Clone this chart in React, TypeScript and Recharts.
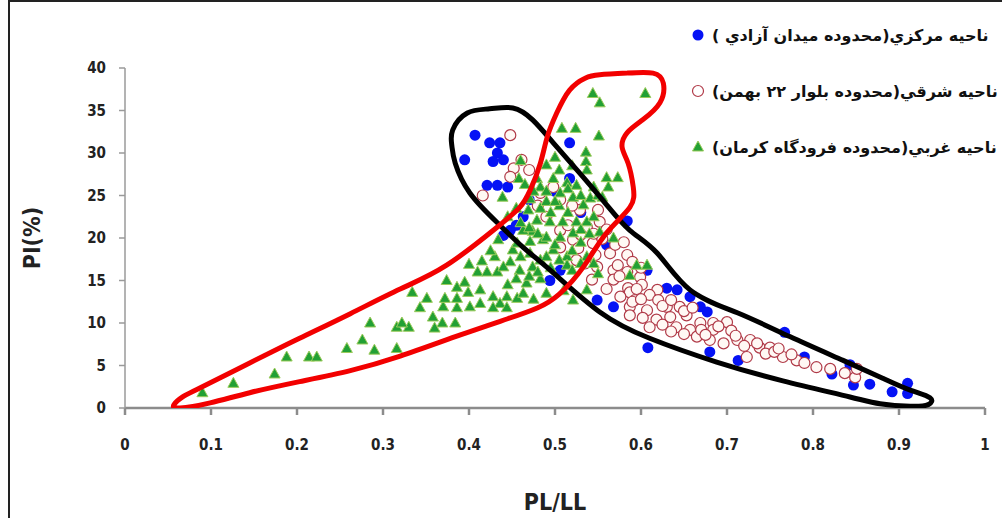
import React from "react";
import { Legend, Scatter, ScatterChart, XAxis, YAxis } from "recharts";

const xTicks = [0, 0.1, 0.2, 0.3, 0.4, 0.5, 0.6, 0.7, 0.8, 0.9, 1];
const yTicks = [0, 5, 10, 15, 20, 25, 30, 35, 40];

const seriesNames = [
  "ناحيه مرکزي(محدوده ميدان آزادي )",
  "ناحيه شرقي(محدوده بلوار ۲۲ بهمن)",
  "ناحيه غربي(محدوده فرودگاه کرمان)",
];

// central zone - filled blue circles
const centralPoints: [number, number][] = [
  [0.407, 32.1], [0.424, 31.2], [0.436, 31.2], [0.433, 30], [0.395, 29.2],
  [0.428, 29], [0.44, 29.2], [0.421, 26.2], [0.433, 26.2], [0.445, 26],
  [0.517, 31.2], [0.517, 27], [0.463, 22.5], [0.448, 20.9], [0.455, 21.5],
  [0.44, 20.3], [0.494, 15], [0.506, 16.2], [0.584, 22], [0.56, 19.2],
  [0.549, 12.7], [0.568, 11.9], [0.607, 16.2], [0.63, 14.1], [0.642, 13.9],
  [0.657, 13.1], [0.669, 11.9], [0.677, 11.3], [0.608, 7.1], [0.68, 6.6],
  [0.713, 5.6], [0.767, 8.9], [0.79, 6], [0.822, 4], [0.843, 5.1],
  [0.847, 2.7], [0.866, 2.8], [0.892, 1.9], [0.91, 1.7], [0.91, 2.9],
  [0.5, 25.5], [0.53, 23], [0.47, 24.5],
];

// eastern zone - open red circles
const easternPoints: [number, number][] = [
  [0.448, 32.1], [0.461, 29.2], [0.452, 28.2], [0.448, 27.2], [0.416, 25],
  [0.483, 25.3], [0.498, 26], [0.506, 24.5], [0.49, 22.5], [0.529, 23.3],
  [0.55, 23.3], [0.552, 21.9], [0.537, 21.3], [0.506, 20.9], [0.521, 19.8],
  [0.544, 19.4], [0.527, 18.8], [0.506, 18.9], [0.525, 17.4], [0.547, 18],
  [0.564, 18.2], [0.584, 18], [0.549, 16.6], [0.568, 16.2], [0.573, 16.8],
  [0.584, 16], [0.599, 15.4], [0.543, 15.1], [0.568, 15.1], [0.585, 14.1],
  [0.601, 14.5], [0.619, 13.9], [0.587, 13.6], [0.576, 13.1], [0.593, 12.7],
  [0.61, 13.3], [0.62, 12.7], [0.587, 11.9], [0.607, 11.5], [0.63, 11.9],
  [0.645, 11.9], [0.587, 10.9], [0.602, 10.6], [0.618, 10.4], [0.634, 10.7],
  [0.653, 10.9], [0.61, 9.5], [0.641, 9.5], [0.657, 9.2], [0.669, 10],
  [0.684, 10], [0.7, 10.1], [0.684, 9.2], [0.665, 8.4], [0.68, 8],
  [0.696, 7.6], [0.712, 8], [0.727, 8], [0.738, 7.1], [0.75, 7.1],
  [0.723, 6], [0.765, 6], [0.781, 5.6], [0.804, 4.8], [0.837, 4.1],
  [0.849, 3.6], [0.851, 4.6], [0.555, 19.9], [0.56, 21], [0.57, 19.2],
  [0.58, 19.5], [0.59, 17.2], [0.6, 16.5], [0.595, 14], [0.56, 14],
  [0.575, 15.5], [0.59, 12.5], [0.6, 12.8], [0.625, 12], [0.635, 12.7],
  [0.65, 11.4], [0.66, 11.8], [0.625, 9.8], [0.635, 9], [0.65, 8.7],
  [0.67, 9.2], [0.675, 8.6], [0.69, 9.6], [0.705, 9.1], [0.71, 8.5],
  [0.72, 7.3], [0.735, 7.6], [0.745, 6.4], [0.755, 6.6], [0.76, 7],
  [0.775, 6.3], [0.79, 5.3], [0.82, 4.6], [0.545, 20.5], [0.535, 17],
  [0.515, 21.5], [0.52, 23.8], [0.48, 23.8], [0.47, 28], [0.53, 20.4],
];

// western zone - green triangles
const westernPoints: [number, number][] = [
  [0.09, 1.8], [0.126, 2.9], [0.174, 4], [0.188, 6], [0.214, 6],
  [0.223, 6], [0.258, 7], [0.276, 8], [0.285, 10], [0.29, 6.8],
  [0.316, 9.5], [0.316, 7], [0.33, 9.5], [0.322, 10], [0.343, 11.8],
  [0.334, 13.6], [0.351, 12.9], [0.358, 10.7], [0.369, 10], [0.384, 10],
  [0.37, 11.9], [0.386, 11.8], [0.401, 11.9], [0.372, 12.9], [0.386, 12.9],
  [0.374, 15], [0.386, 14.2], [0.395, 14.8], [0.399, 13.6], [0.413, 13.9],
  [0.413, 12.3], [0.41, 16], [0.421, 16], [0.433, 16], [0.428, 13.1],
  [0.436, 12.3], [0.428, 11.8], [0.444, 13.1], [0.444, 11.8], [0.456, 12.9],
  [0.463, 13.5], [0.467, 14.7], [0.483, 15.2], [0.43, 17.8], [0.448, 17.2],
  [0.459, 16.2], [0.474, 16.6], [0.451, 18.6], [0.471, 18.2], [0.483, 17.4],
  [0.434, 19.8], [0.456, 19.4], [0.471, 19.6], [0.486, 19.8], [0.474, 20.8],
  [0.463, 20.9], [0.49, 20.1], [0.498, 18.6], [0.506, 20.1], [0.514, 17.8],
  [0.521, 20.6], [0.479, 22.1], [0.494, 21.9], [0.509, 21.9], [0.525, 21.9],
  [0.537, 21.9], [0.469, 23.3], [0.483, 23.5], [0.49, 24.3], [0.506, 25.3],
  [0.521, 24.8], [0.533, 23.9], [0.541, 24.7], [0.439, 24.8], [0.471, 24.6],
  [0.479, 27], [0.498, 27], [0.514, 26.5], [0.483, 26], [0.458, 27],
  [0.46, 29.1], [0.536, 30.1], [0.536, 29], [0.537, 28], [0.56, 27.1],
  [0.573, 27.1], [0.562, 26], [0.508, 32.9], [0.524, 32.9], [0.551, 32],
  [0.544, 37], [0.552, 35.9], [0.605, 37], [0.568, 20], [0.552, 20.7],
  [0.537, 17.8], [0.537, 13.9], [0.514, 16.8], [0.521, 12.7], [0.595, 16.8],
  [0.607, 16.8], [0.587, 15.6], [0.445, 22.5], [0.455, 23.5], [0.46, 21.8],
  [0.47, 21.2], [0.48, 20.5], [0.495, 23], [0.505, 23.8], [0.515, 23],
  [0.53, 21], [0.54, 20.5], [0.545, 22.5], [0.5, 19.2], [0.52, 18.5],
  [0.53, 19.5], [0.49, 17.8], [0.505, 17.4], [0.52, 16.2], [0.53, 17],
  [0.545, 17], [0.55, 15.8], [0.495, 16.5], [0.48, 16], [0.47, 15.5],
  [0.455, 15.2], [0.445, 14.5], [0.46, 17.8], [0.44, 16.6], [0.425, 18.5],
  [0.415, 17.3], [0.4, 16.9], [0.49, 25.5], [0.5, 24.3], [0.515, 25.8],
  [0.525, 26.2], [0.53, 25], [0.545, 26], [0.55, 25], [0.475, 25.5],
  [0.465, 26.3], [0.505, 28], [0.52, 28.5], [0.5, 29.5], [0.49, 28.6],
  [0.555, 24.8], [0.51, 13.8], [0.49, 13.5], [0.475, 12.8], [0.36, 9.4],
];

// hand drawn envelope around the central + eastern points
const blackOutline: [number, number][] = [
  [0.433, 21.8], [0.401, 25.3], [0.384, 28.8], [0.38, 30.9], [0.381, 32.7],
  [0.398, 34.7], [0.424, 35.2], [0.451, 35.3], [0.474, 33.9], [0.498, 31.2],
  [0.529, 27.6], [0.56, 23.9], [0.587, 20.9], [0.619, 18.2], [0.657, 13.9],
  [0.712, 11.2], [0.773, 8.4], [0.835, 5.6], [0.881, 3.5], [0.913, 2.1],
  [0.936, 1.2], [0.934, 0.4], [0.913, 0.2], [0.878, 0.5], [0.843, 1.3],
  [0.765, 3.2], [0.688, 5.4], [0.61, 8.2], [0.552, 11.3], [0.498, 15.9],
  [0.463, 18.9], [0.433, 21.8],
];

// hand drawn envelope around the western points
const redOutline: [number, number][] = [
  [0.584, 39.4], [0.614, 39.4], [0.626, 38.2], [0.622, 35.9], [0.602, 33.9],
  [0.584, 32.4], [0.578, 30.7], [0.585, 28.8], [0.591, 26], [0.587, 23.6],
  [0.56, 20.6], [0.533, 16.6], [0.505, 13.4], [0.48, 11.8], [0.445, 10.5],
  [0.39, 8.6], [0.32, 6.1], [0.262, 4.4], [0.203, 3.1], [0.145, 1.8],
  [0.099, 0.6], [0.064, 0], [0.057, 0.4], [0.067, 1.3], [0.087, 2.35],
  [0.145, 5.3], [0.203, 8.2], [0.262, 11.1], [0.32, 14], [0.374, 16.8],
  [0.433, 21.3], [0.459, 23.6], [0.471, 25.6], [0.483, 28.8], [0.491, 31.9],
  [0.502, 34.7], [0.517, 37.4], [0.535, 38.8], [0.552, 39.2], [0.584, 39.4],
];

const toRows = (pts: [number, number][]) => pts.map(([x, y]) => ({ x, y }));

const FONT = "'DejaVu Sans Condensed', 'Liberation Sans', sans-serif";

const BlueDot = (p: any) => <circle cx={p.cx} cy={p.cy} r={5.5} fill="#0512f5" />;
const RedRing = (p: any) => (
  <circle cx={p.cx} cy={p.cy} r={5.5} fill="#fff8f4" stroke="#b03a48" strokeWidth={1.2} />
);
const GreenTri = (p: any) => (
  <polygon
    points={`${p.cx},${p.cy - 6} ${p.cx - 5.5},${p.cy + 4} ${p.cx + 5.5},${p.cy + 4}`}
    fill="#22a034"
    stroke="#9ccb5c"
    strokeWidth={1}
  />
);
const NoDot = () => <g />;

function LegendMarker({ idx }: { idx: number }) {
  return (
    <svg width={16} height={16} style={{ flex: "none" }}>
      {idx === 0 && <circle cx={8} cy={8} r={5.5} fill="#0512f5" />}
      {idx === 1 && <circle cx={8} cy={8} r={5.5} fill="#fff" stroke="#b03a48" strokeWidth={1.2} />}
      {idx === 2 && <polygon points="8,2 2.5,12 13.5,12" fill="#22a034" stroke="#9ccb5c" />}
    </svg>
  );
}

const renderLegend = (props: any) => {
  const items = (props.payload || [])
    .filter((p: any) => seriesNames.includes(p.value))
    .sort((a: any, b: any) => seriesNames.indexOf(a.value) - seriesNames.indexOf(b.value));
  return (
    <div>
      {items.map((p: any) => (
        <div key={p.value} style={{ display: "flex", alignItems: "center", height: 56 }}>
          <LegendMarker idx={seriesNames.indexOf(p.value)} />
          <span
            dir="rtl"
            style={{
              marginLeft: 6,
              whiteSpace: "nowrap",
              fontFamily: "'DejaVu Sans', sans-serif",
              fontSize: 16,
              fontWeight: "bold",
              color: "#111",
            }}
          >
            {p.value}
          </span>
        </div>
      ))}
    </div>
  );
};

export default function App() {
  return (
    <div
      style={{
        position: "absolute",
        left: 0,
        top: 0,
        width: 1002,
        height: 518,
        overflow: "hidden",
        background: "#fff",
      }}
    >
      <div
        style={{
          position: "absolute",
          left: 8,
          top: 0,
          width: 1000,
          height: 530,
          borderLeft: "2px solid #222",
          borderTop: "2px solid #222",
        }}
      />
      <ScatterChart width={1002} height={518} margin={{ top: 68, right: 17, bottom: 0, left: 0 }}>
        <XAxis
          type="number"
          dataKey="x"
          domain={[0, 1]}
          ticks={xTicks}
          allowDataOverflow
          height={110}
          stroke="#8c8c8c"
          strokeWidth={2.5}
          tickSize={7}
          tickMargin={24}
          tick={{ fill: "#222", fontSize: 15, fontWeight: "bold", fontFamily: FONT }}
          label={{
            value: "PL/LL",
            position: "insideBottom",
            offset: 8,
            style: { fill: "#222", fontSize: 23, fontWeight: "bold", fontFamily: FONT },
          }}
        />
        <YAxis
          type="number"
          dataKey="y"
          domain={[0, 40]}
          ticks={yTicks}
          allowDataOverflow
          width={125}
          stroke="#9a9a9a"
          strokeWidth={1.5}
          tickSize={6}
          tickMargin={13}
          tick={{ fill: "#222", fontSize: 15, fontWeight: "bold", fontFamily: FONT }}
          label={{
            value: "PI(%)",
            angle: -90,
            position: "insideLeft",
            offset: 32,
            style: { fill: "#222", fontSize: 23, fontWeight: "bold", fontFamily: FONT, textAnchor: "middle" },
          }}
        />
        <Legend
          layout="vertical"
          align="center"
          verticalAlign="middle"
          content={renderLegend}
          wrapperStyle={{ top: 7, left: 690, width: 340 }}
        />
        <Scatter name={seriesNames[0]} data={toRows(centralPoints)} fill="#0512f5" shape={BlueDot} isAnimationActive={false} />
        <Scatter name={seriesNames[1]} data={toRows(easternPoints)} fill="#b03a48" shape={RedRing} isAnimationActive={false} />
        <Scatter name={seriesNames[2]} data={toRows(westernPoints)} fill="#22a034" shape={GreenTri} isAnimationActive={false} />
        <Scatter
          name="outline-central"
          legendType="none"
          data={toRows(blackOutline)}
          fill="#000"
          shape={NoDot}
          line={{ stroke: "#000", strokeWidth: 5, strokeLinejoin: "round" }}
          lineJointType="natural"
          isAnimationActive={false}
        />
        <Scatter
          name="outline-western"
          legendType="none"
          data={toRows(redOutline)}
          fill="#f00"
          shape={NoDot}
          line={{ stroke: "#f20000", strokeWidth: 5, strokeLinejoin: "round" }}
          lineJointType="natural"
          isAnimationActive={false}
        />
      </ScatterChart>
    </div>
  );
}
